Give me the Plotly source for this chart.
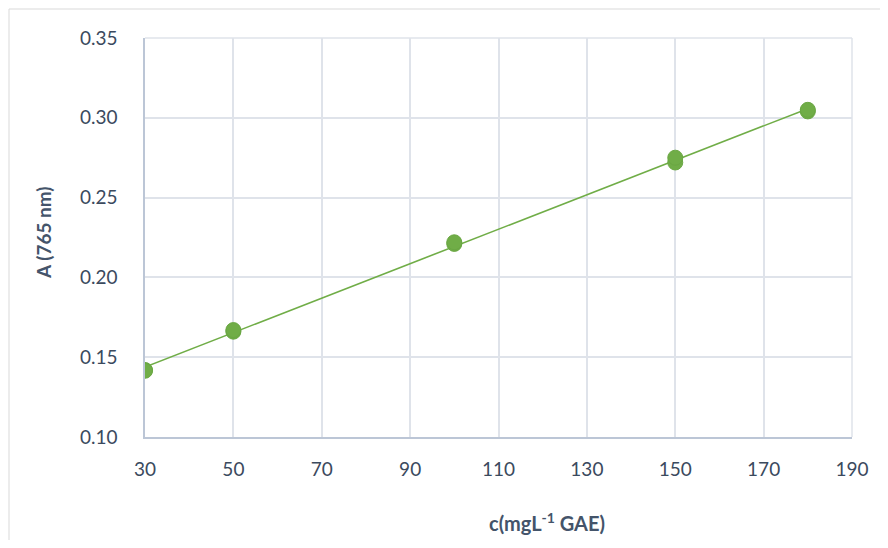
import numpy as np
import plotly.graph_objects as go

# Data
conc = [30, 30, 50, 50, 100, 100, 150, 150, 180, 180]
absorb = [0.142, 0.1415, 0.166, 0.167, 0.221, 0.222, 0.272, 0.275, 0.304, 0.305]
x_ticks = [30, 50, 70, 90, 110, 130, 150, 170, 190]
y_ticks = [0.10, 0.15, 0.20, 0.25, 0.30, 0.35]
x_title = "c(mgL<sup>-1</sup> GAE)"
y_title = "A (765 nm)"

GREEN = "#70ad47"
TXT = "#44546a"
FONT = "Lato, 'Open Sans', sans-serif"

slope, intercept = np.polyfit(conc, absorb, 1)
fit_x = [min(conc), max(conc)]
fit_y = [slope * v + intercept for v in fit_x]

fig = go.Figure()
fig.add_trace(go.Scatter(x=fit_x, y=fit_y, mode="lines",
                         line=dict(color=GREEN, width=1.6),
                         hoverinfo="skip", showlegend=False))
fig.add_trace(go.Scatter(x=conc, y=absorb, mode="markers",
                         marker=dict(size=15, color=GREEN,
                                     line=dict(color="#6aa743", width=1)),
                         showlegend=False))

OFF = 8  # page body margin
W, H = 872, 532
ml, mr, mt, mb = 137, 28, 30, 103
pw, ph = W - ml - mr, H - mt - mb
px = lambda p: (p - OFF - ml) / pw
py = lambda p: (H - mb - (p - OFF)) / ph

fig.add_shape(type="rect", xref="paper", yref="paper",
              x0=px(9), x1=px(900), y0=py(560), y1=py(9),
              line=dict(color="#d9d9d9", width=1), layer="below")

fig.add_annotation(text=f"<b>{x_title}</b>", xref="paper", yref="paper",
                   x=px(547), y=py(522), xanchor="center", yanchor="middle",
                   showarrow=False, font=dict(size=20, color=TXT))
fig.add_annotation(text=f"<b>{y_title}</b>", xref="paper", yref="paper",
                   x=px(43), y=py(232), xanchor="center", yanchor="middle",
                   textangle=-90, showarrow=False, font=dict(size=19, color=TXT))

fig.update_layout(
    width=W, height=H,
    margin=dict(l=ml, r=mr, t=mt, b=mb),
    plot_bgcolor="white", paper_bgcolor="white",
    font=dict(family=FONT, size=19, color=TXT),
    xaxis=dict(range=[30, 190], tickvals=x_ticks, ticktext=[str(v) for v in x_ticks],
               showgrid=True, gridcolor="#dfe3ea", gridwidth=1.5,
               showline=True, linecolor="#bcc6d6", linewidth=1.5,
               mirror=False, zeroline=False, ticks="", ticklabelstandoff=14,
               tickfont=dict(size=19, color="#3b4a5e")),
    yaxis=dict(range=[0.10, 0.35], tickvals=y_ticks,
               ticktext=[f"{v:.2f}" for v in y_ticks],
               showgrid=True, gridcolor="#dfe3ea", gridwidth=1.5,
               showline=True, linecolor="#bcc6d6", linewidth=1.5,
               zeroline=False, ticks="", ticklabelstandoff=22,
               tickfont=dict(size=19, color="#3b4a5e")),
)
fig.add_shape(type="line", xref="paper", yref="paper", x0=1, x1=1, y0=0, y1=1,
              line=dict(color="#dfe3ea", width=1.5), layer="below")
fig.add_shape(type="line", xref="paper", yref="paper", x0=0, x1=1, y0=1, y1=1,
              line=dict(color="#dfe3ea", width=1.5), layer="below")

fig.write_html("out.html")
